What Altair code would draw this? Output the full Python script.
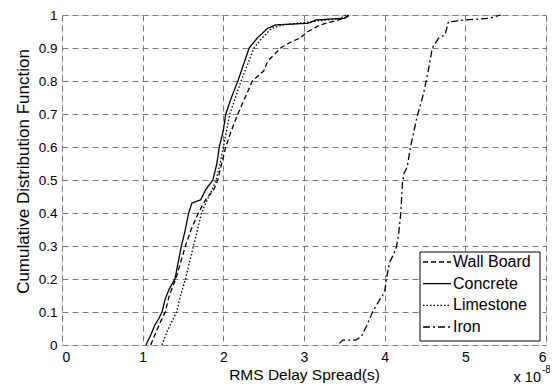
import altair as alt
import pandas as pd

series_names = ["Wall Board", "Concrete", "Limestone", "Iron"]
series_dashes = [[5, 3], [1, 0], [1.5, 2], [7, 3, 2, 3]]

wall_x = [1.10, 1.15, 1.22, 1.28, 1.33, 1.41, 1.47, 1.53, 1.60, 1.69, 1.78, 1.88, 1.93, 1.98, 2.03, 2.10, 2.18, 2.27, 2.36, 2.50, 2.55, 2.71, 2.85, 2.95, 3.05, 3.20, 3.35, 3.50, 3.57]
wall_y = [0.00, 0.03, 0.07, 0.10, 0.15, 0.20, 0.25, 0.30, 0.35, 0.40, 0.44, 0.47, 0.50, 0.55, 0.60, 0.65, 0.70, 0.75, 0.80, 0.83, 0.86, 0.90, 0.92, 0.93, 0.95, 0.97, 0.98, 0.99, 1.00]

conc_x = [1.04, 1.10, 1.15, 1.20, 1.24, 1.28, 1.33, 1.40, 1.44, 1.48, 1.52, 1.57, 1.61, 1.72, 1.78, 1.87, 1.92, 1.95, 2.00, 2.03, 2.10, 2.18, 2.25, 2.32, 2.42, 2.55, 2.65, 3.05, 3.15, 3.50, 3.55]
conc_y = [0.00, 0.03, 0.06, 0.08, 0.10, 0.14, 0.17, 0.20, 0.25, 0.30, 0.34, 0.40, 0.43, 0.44, 0.47, 0.50, 0.55, 0.60, 0.65, 0.70, 0.75, 0.80, 0.85, 0.90, 0.93, 0.96, 0.97, 0.975, 0.985, 0.99, 1.00]

lime_x = [1.24, 1.30, 1.36, 1.42, 1.47, 1.53, 1.58, 1.63, 1.68, 1.73, 1.80, 1.86, 1.91, 1.96, 2.00, 2.04, 2.08, 2.15, 2.22, 2.30, 2.38, 2.48, 2.60, 2.75, 3.10, 3.45, 3.52]
lime_y = [0.00, 0.04, 0.07, 0.10, 0.15, 0.20, 0.25, 0.30, 0.35, 0.40, 0.44, 0.47, 0.50, 0.55, 0.60, 0.65, 0.70, 0.75, 0.80, 0.85, 0.90, 0.93, 0.96, 0.97, 0.98, 0.99, 1.00]

iron_x = [3.44, 3.48, 3.64, 3.71, 3.78, 3.85, 3.92, 4.00, 4.02, 4.06, 4.14, 4.17, 4.20, 4.22, 4.24, 4.28, 4.32, 4.40, 4.48, 4.54, 4.59, 4.67, 4.75, 4.79, 4.83, 5.00, 5.30, 5.44]
iron_y = [0.005, 0.015, 0.015, 0.025, 0.06, 0.10, 0.13, 0.16, 0.20, 0.25, 0.29, 0.33, 0.40, 0.49, 0.52, 0.54, 0.60, 0.69, 0.76, 0.83, 0.90, 0.93, 0.94, 0.98, 0.98, 0.985, 0.99, 1.00]

x_ticks = [0, 1, 2, 3, 4, 5, 6]
y_ticks = [0, 0.1, 0.2, 0.3, 0.4, 0.5, 0.6, 0.7, 0.8, 0.9, 1]

rows = []
for name, xs, ys in [("Wall Board", wall_x, wall_y), ("Concrete", conc_x, conc_y),
                     ("Limestone", lime_x, lime_y), ("Iron", iron_x, iron_y)]:
    for i, (a, b) in enumerate(zip(xs, ys)):
        rows.append({"series": name, "x": a, "y": b, "order": i})
df = pd.DataFrame(rows)
legend_df = pd.DataFrame({"series": series_names})

FONT = "Liberation Sans"
W, H = 484, 330

dash_scale = alt.Scale(domain=series_names, range=series_dashes)

lines = alt.Chart(df).mark_line(color="black", strokeWidth=1.3).encode(
    x=alt.X("x:Q", scale=alt.Scale(domain=[0, 6], nice=False, zero=False),
            axis=alt.Axis(values=x_ticks, title="RMS Delay Spread(s)", format="d",
                          grid=True, gridDash=[6, 4], gridColor="#777", gridWidth=1,
                          domain=False, ticks=False, labelFontSize=14, titleFontSize=15.5,
                          labelFont=FONT, titleFont=FONT, labelColor="black", titleColor="black",
                          titleFontWeight="normal", labelPadding=5, titlePadding=3)),
    y=alt.Y("y:Q", scale=alt.Scale(domain=[0, 1], nice=False),
            axis=alt.Axis(values=y_ticks, title="Cumulative Distribution Function",
                          labelExpr="format(datum.value, '.1~f')",
                          grid=True, gridDash=[6, 4], gridColor="#777", gridWidth=1,
                          domain=False, ticks=False, labelFontSize=13.5, titleFontSize=17,
                          labelFont=FONT, titleFont=FONT, labelColor="black", titleColor="black",
                          titleFontWeight="normal", labelPadding=5, titlePadding=6,
                          titleY=156)),
    strokeDash=alt.StrokeDash("series:N", scale=dash_scale, legend=None),
    detail="series:N",
    order="order:Q",
)

box = alt.Chart(pd.DataFrame({"k": [0]})).mark_rect(
    fill="white", stroke="black", strokeWidth=1
).encode(x=alt.value(358), x2=alt.value(478), y=alt.value(237), y2=alt.value(326))

leg_y = alt.Y("series:N", scale=alt.Scale(type="point", domain=series_names,
                                          range=[247, 312], padding=0), axis=None)

leg_sym = alt.Chart(legend_df).mark_rule(color="black", strokeWidth=1.3).encode(
    x=alt.value(361), x2=alt.value(389), y=leg_y,
    strokeDash=alt.StrokeDash("series:N", scale=dash_scale, legend=None),
)
leg_txt = alt.Chart(legend_df).mark_text(
    font=FONT, fontSize=16, align="left", baseline="middle", color="black"
).encode(x=alt.value(391), y=leg_y, text="series:N")

exp_base = alt.Chart(pd.DataFrame({"t": ["x 10"]})).mark_text(
    font=FONT, fontSize=14.5, align="right", baseline="alphabetic", color="black"
).encode(text="t:N", x=alt.value(479), y=alt.value(367))
exp_sup = alt.Chart(pd.DataFrame({"t": ["-8"]})).mark_text(
    font=FONT, fontSize=10, align="left", baseline="alphabetic", color="black"
).encode(text="t:N", x=alt.value(480), y=alt.value(358))

chart = alt.layer(lines, box, leg_sym, leg_txt, exp_base, exp_sup).resolve_scale(
    y="independent", strokeDash="shared"
).properties(
    width=W, height=H,
    padding={"left": 54, "top": 7, "right": 4, "bottom": 39},
    autosize=alt.AutoSizeParams(type="none"),
).configure_view(stroke="black", strokeWidth=1).configure(background="white")

chart.save("out.html", embed_options={"renderer": "svg", "actions": False})
